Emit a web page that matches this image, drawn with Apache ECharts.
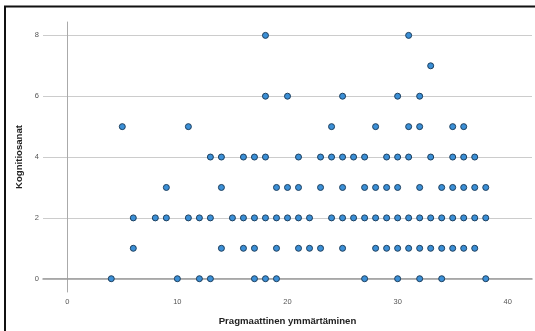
<!DOCTYPE html>
<html>
<head>
<meta charset="utf-8">
<script src="https://cdn.jsdelivr.net/npm/echarts@6/dist/echarts.min.js"></script>
<style>
html,body{margin:0;padding:0;background:#fff;}
#chart{width:535px;height:331px;}
</style>
</head>
<body>
<div id="chart"></div>
<script>
// x values (Pragmaattinen ymmärtäminen) for each y level (Kognitiosanat)
const row0 = [4, 10, 12, 13, 17, 18, 19, 27, 30, 32, 34, 38];
const row1 = [6, 14, 16, 17, 19, 21, 22, 23, 25, 28, 29, 30, 31, 32, 33, 34, 35, 36, 37];
const row2 = [6, 8, 9, 11, 12, 13, 15, 16, 17, 18, 19, 20, 21, 22, 24, 25, 26, 27, 28, 29, 30, 31, 32, 33, 34, 35, 36, 37, 38];
const row3 = [9, 14, 19, 20, 21, 23, 25, 27, 28, 29, 30, 32, 34, 35, 36, 37, 38];
const row4 = [13, 14, 16, 17, 18, 21, 23, 24, 25, 26, 27, 29, 30, 31, 33, 35, 36, 37];
const row5 = [5, 11, 24, 28, 31, 32, 35, 36];
const row6 = [18, 20, 25, 30, 32];
const row7 = [33];
const row8 = [18, 31];
const rows = [row0, row1, row2, row3, row4, row5, row6, row7, row8];
const xTicks = [0, 10, 20, 30, 40];
const yTicks = [0, 2, 4, 6, 8];

const points = [];
rows.forEach((xs, y) => xs.forEach(x => points.push([x, y])));

const chart = echarts.init(document.getElementById('chart'), null, {renderer: 'canvas'});
const font = '"Liberation Sans", Arial, sans-serif';
chart.setOption({
  animation: false,
  backgroundColor: '#ffffff',
  grid: {left: 43, right: 2, top: 22, bottom: 39, containLabel: false},
  graphic: [{
    type: 'rect', silent: true,
    shape: {x: 5, y: 6.5, width: 600, height: 400},
    style: {fill: 'none', stroke: '#111', lineWidth: 2}
  }],
  xAxis: {
    type: 'value', min: -2.2, max: 42.2,
    name: 'Pragmaattinen ymmärtäminen', nameLocation: 'middle', nameGap: 24,
    nameTextStyle: {fontFamily: font, fontSize: 9.6, fontWeight: 'bold', color: '#222'},
    axisLine: {show: true, lineStyle: {color: '#9a9a9a', width: 1.5}},
    axisTick: {show: false},
    splitLine: {show: false},
    axisLabel: {
      fontFamily: font, fontSize: 7.5, color: '#555', margin: 6,
      formatter: v => xTicks.indexOf(v) >= 0 ? String(v) : ''
    }
  },
  yAxis: {
    type: 'value', min: -0.437, max: 8.44,
    name: 'Kognitiosanat', nameLocation: 'middle', nameGap: 17,
    nameTextStyle: {fontFamily: font, fontSize: 9.6, fontWeight: 'bold', color: '#222'},
    axisLine: {show: true, lineStyle: {color: '#aaaaaa', width: 1}},
    axisTick: {show: false},
    splitLine: {show: true, showMinLine: false, showMaxLine: false, lineStyle: {color: '#cccccc', width: 1}},
    axisLabel: {
      fontFamily: font, fontSize: 7.5, color: '#555', margin: 4,
      formatter: v => yTicks.indexOf(v) >= 0 ? String(v) : ''
    }
  },
  series: [{
    type: 'scatter',
    data: points,
    symbol: 'circle',
    symbolSize: 6,
    itemStyle: {color: '#3b8fd6', borderColor: '#1d3f5e', borderWidth: 1, opacity: 1}
  }]
});
</script>
</body>
</html>
